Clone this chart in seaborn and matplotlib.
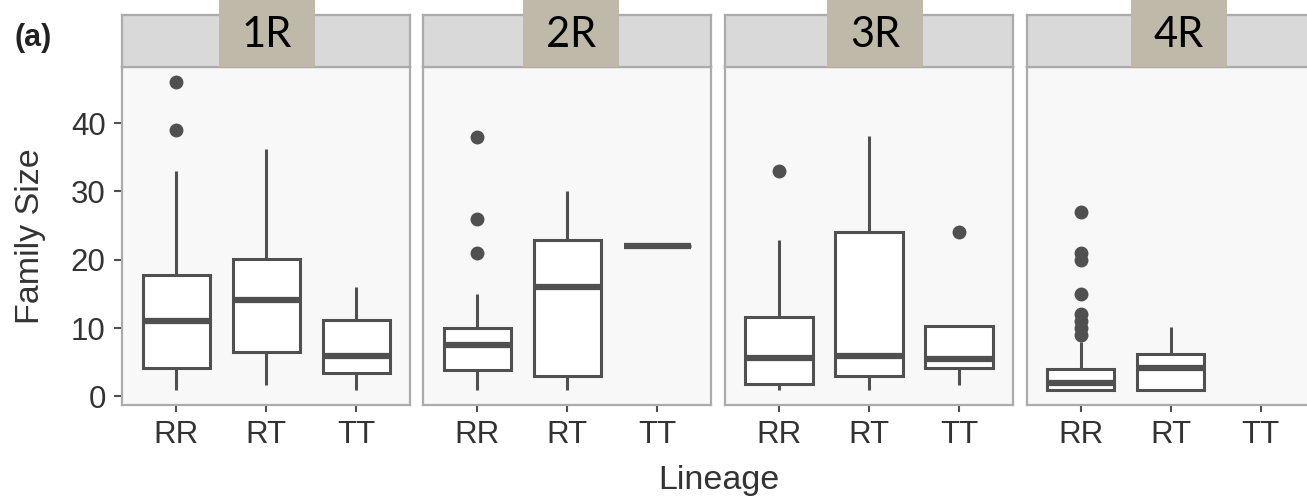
import matplotlib
matplotlib.use("Agg")
import matplotlib.pyplot as plt
from matplotlib.patches import Rectangle
import seaborn as sns
import pandas as pd

# ---------------- data ----------------
panels = ["1R", "2R", "3R", "4R"]
lineages = ["RR", "RT", "TT"]
yticks = [0, 10, 20, 30, 40]

rr_1R = [1, 2, 3, 4.2, 6, 9, 11, 13, 15, 17.8, 33, 39, 46]
rt_1R = [1.7, 4, 6.5, 10, 14.1, 17, 20.1, 28, 36.2]
tt_1R = [1, 2, 3.4, 5, 5.9, 8, 11.2, 13, 16]

rr_2R = [1, 2, 3, 3.5, 3.9, 5, 6, 7, 7.5, 8, 9, 9.5, 10, 15, 21, 26, 38]
rt_2R = [1, 2, 3, 10, 16, 19, 22.9, 26, 30]
tt_2R = [22, 22]

rr_3R = [1, 1, 1.5, 1.85, 3, 4, 5.6, 7, 9, 11.6, 15, 22.9, 33]
rt_3R = [1, 2, 3, 4, 5.9, 12, 24, 30, 38.1]
tt_3R = [1.7, 3, 4.2, 5, 5.5, 8, 10.3, 10.3, 24]

rr_4R = [1, 1, 1, 1, 1, 1, 1, 1, 1, 1,
         1, 1, 2, 2, 2, 2, 2, 2, 2,
         2, 2, 3, 3, 3, 3, 4, 4, 4,
         8, 9, 10, 11, 12, 15, 20, 21, 27]
rt_4R = [1, 1, 1, 3, 4.1, 5, 6.2, 8, 10.2]
tt_4R = []

groups = {
    "1R": [rr_1R, rt_1R, tt_1R],
    "2R": [rr_2R, rt_2R, tt_2R],
    "3R": [rr_3R, rt_3R, tt_3R],
    "4R": [rr_4R, rt_4R, tt_4R],
}

rows = []
for p in panels:
    for lin, vals in zip(lineages, groups[p]):
        for v in vals:
            rows.append({"panel": p, "Lineage": lin, "Family Size": v})
df = pd.DataFrame(rows)

# ---------------- style ----------------
sns.set_theme(style="white")
plt.rcParams['font.family'] = ['Liberation Sans', 'DejaVu Sans']

W, H = 1307, 503
fig = plt.figure(figsize=(W / 100, H / 100), dpi=100)
fig.patch.set_facecolor("white")


def rect(x0, y0, x1, y1):
    return [x0 / W, 1 - y1 / H, (x1 - x0) / W, (y1 - y0) / H]


lefts = [122.3, 423.3, 725.0, 1026.7]
pw = 288.0
ptop, pbot = 66.7, 405.0
stop = 15.0
tan_lefts = [219.3, 523.3, 827.3, 1131.0]
tan_w = 95.7

dark = "#505050"
txt = "#333333"
border = "#ababab"

for i, p in enumerate(panels):
    x0 = lefts[i]
    ax = fig.add_axes(rect(x0, ptop, x0 + pw, pbot))
    sub = df[df["panel"] == p]
    sns.boxplot(data=sub, x="Lineage", y="Family Size", order=lineages, ax=ax,
                width=0.75, color="white", saturation=1, linecolor=dark,
                linewidth=2.2, fliersize=9,
                flierprops=dict(marker="o", markerfacecolor=dark,
                                markeredgecolor=dark),
                capprops=dict(linewidth=0),
                medianprops=dict(linewidth=4.5, color=dark))
    ax.set_facecolor("#f8f8f8")
    ax.set_xlim(-0.6, 2.6)
    ax.set_ylim(-1.25, 48.25)
    ax.set_xlabel("")
    ax.set_ylabel("")
    for s in ax.spines.values():
        s.set_color(border)
        s.set_linewidth(1.6)
    ax.set_yticks(yticks)
    ax.tick_params(axis="x", bottom=True, length=5, width=1.5, color=dark,
                   labelsize=22.5, labelcolor=txt, pad=6)
    if i == 0:
        ax.tick_params(axis="y", left=True, length=6, width=1.5, color=dark,
                       labelsize=22.5, labelcolor=txt, pad=6)
    else:
        ax.tick_params(axis="y", left=False, labelleft=False)

    # strip
    sax = fig.add_axes(rect(x0, stop, x0 + pw, ptop))
    sax.set_facecolor("#d9d9d9")
    sax.set_xticks([])
    sax.set_yticks([])
    for s in sax.spines.values():
        s.set_color(border)
        s.set_linewidth(1.6)

    # tan label box
    tx = tan_lefts[i]
    fig.patches.append(Rectangle((tx / W, 1 - ptop / H), tan_w / W, ptop / H,
                                 transform=fig.transFigure, facecolor="#bfb9a9",
                                 edgecolor="none", zorder=5))
    fig.text((tx + tan_w / 2) / W, 1 - 35 / H, p, ha="center", va="center",
             fontsize=30, family=["Lato", "DejaVu Sans"], color="black",
             zorder=6)

fig.text(31 / W, 1 - 236 / H, "Family Size", rotation=90, ha="center",
         va="center", fontsize=24.5, color=txt)
fig.text(719 / W, 1 - 481 / H, "Lineage", ha="center", va="center",
         fontsize=24.5, color=txt)
fig.text(33 / W, 1 - 38 / H, "(a)", ha="center", va="center", fontsize=22,
         fontweight="bold", color="#222222")

fig.savefig("out.png", dpi=100)
